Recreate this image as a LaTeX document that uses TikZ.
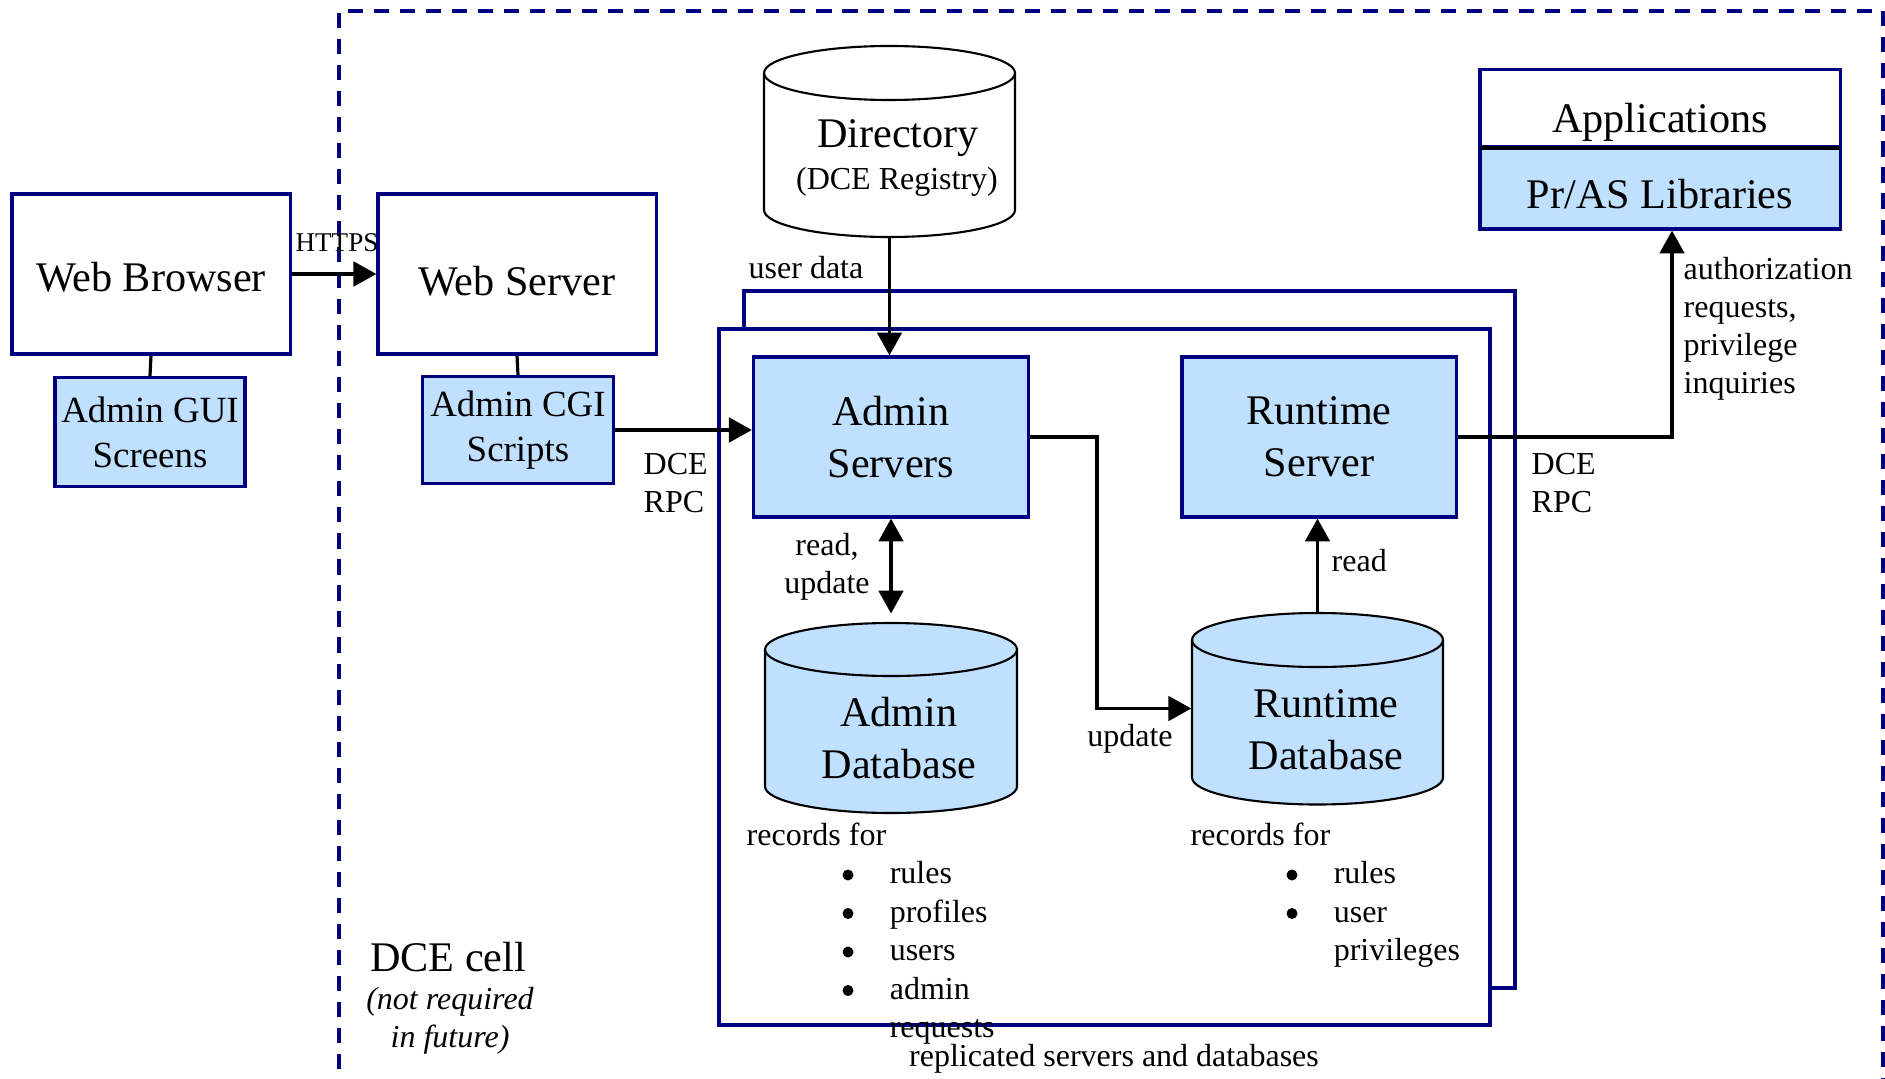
\documentclass[tikz,border=0pt]{standalone}
\usepackage{fontspec}
\setmainfont{Liberation Serif}
\usetikzlibrary{arrows.meta}

\definecolor{cellblue}{RGB}{0,0,128}
\definecolor{boxfill}{RGB}{192,224,255}

\tikzset{
  blk/.style={draw=cellblue, line width=0.9pt, align=center, inner sep=0pt},
  big/.style={font=\fontsize{12}{14.8}\selectfont},
  mid/.style={font=\fontsize{10.5}{12.8}\selectfont},
  lbl/.style={font=\fontsize{9.1}{10.8}\selectfont, inner sep=0pt},
  drum/.style={draw=black, line width=0.6pt},
  drumbox/.style={inner sep=0pt},
  arr/.style={line width=0.9pt, -{Triangle[length=6.5pt,width=7pt]}},
  link/.style={line width=0.9pt},
}

\begin{document}
\begin{tikzpicture}[x=0.01cm, y=-0.01cm]
\useasboundingbox (0,0) rectangle (1885,1079);

% DCE cell boundary
\draw[cellblue, line width=0.9pt, dash pattern=on 4.3pt off 3.1pt] (339,1095) |- (1883,11) -- (1883,1095);

% replicated servers and databases
\draw[cellblue, line width=0.9pt] (744,291) rectangle (1515,988);
\draw[cellblue, line width=0.9pt, fill=white] (719,329) rectangle (1490,1025);

% browser side
\node[blk, big, minimum width=2.78cm, minimum height=1.6cm, text height=10pt, text depth=0pt] (browser) at (151,274) {Web Browser};
\node[blk, mid, fill=boxfill, minimum width=1.9cm, minimum height=1.09cm] (gui) at (150,432) {Admin GUI\\Screens};
\node[blk, big, minimum width=2.78cm, minimum height=1.6cm, text height=12.2pt, text depth=0pt] (websrv) at (517,274) {Web Server};
\node[blk, mid, fill=boxfill, minimum width=1.91cm, minimum height=1.07cm] (cgi) at (518,430) {Admin CGI\\Scripts};
\node[font=\fontsize{7.7}{9}\selectfont, inner sep=0pt] (https) at (337,243) {HTTPS};

% servers
\node[blk, big, fill=boxfill, minimum width=2.75cm, minimum height=1.6cm] (admsrv) at (891,437) {Admin\\Servers};
\node[blk, big, fill=boxfill, minimum width=2.74cm, minimum height=1.6cm] (rtsrv) at (1319,437) {Runtime\\Server};

% applications
\node[blk, big, minimum width=3.6cm, minimum height=0.77cm, text height=16.8pt, text depth=2.6pt] (apps) at (1660,108) {Applications};
\node[blk, big, fill=boxfill, minimum width=3.6cm, minimum height=0.82cm, text height=14pt, text depth=2.6pt] (aslib) at (1660,188) {Pr/AS Libraries};
\draw[line width=1.1pt] ([xshift=0.5pt]apps.south west) -- ([xshift=-0.5pt]apps.south east);

% directory
\node[drumbox, minimum width=2.51cm, minimum height=1.91cm] (dir) at (889.5,141.5) {};
\filldraw[drum, fill=white] (764,73) -- (764,210) arc (180:0:125.5 and 27) -- (1015,73) arc (0:-180:125.5 and 27) -- cycle;
\draw[drum] (764,73) arc (180:0:125.5 and 27);
\node[big, inner sep=0pt] (dirname) at (898,138) {Directory};
\node[lbl] (dirsub) at (897,182) {(DCE Registry)};

% admin database
\node[drumbox, minimum width=2.52cm, minimum height=1.9cm] (admdb) at (891,718) {};
\filldraw[drum, fill=boxfill] (765,649.5) -- (765,786.5) arc (180:0:126 and 26.5) -- (1017,649.5) arc (0:-180:126 and 26.5) -- cycle;
\draw[drum] (765,649.5) arc (180:0:126 and 26.5);
\node[big, align=center, inner sep=0pt] (admdbtxt) at (899,738) {Admin\\Database};

% runtime database
\node[drumbox, minimum width=2.51cm, minimum height=1.91cm] (rtdb) at (1317.5,708.5) {};
\filldraw[drum, fill=boxfill] (1192,640) -- (1192,777.5) arc (180:0:125.5 and 27) -- (1443,640) arc (0:-180:125.5 and 27) -- cycle;
\draw[drum] (1192,640) arc (180:0:125.5 and 27);
\node[big, align=center, inner sep=0pt] (rtdbtxt) at (1326,730) {Runtime\\Database};

% connectors
\coordinate (updx) at (1097,0);
\coordinate (authx) at (1672,0);
\draw[arr] (browser.east) -- (websrv.west);
\draw[link] (browser.south) -- (gui.north);
\draw[link] (websrv.south) -- (cgi.north);
\draw[arr] (cgi.east) -- (admsrv.west |- cgi.east);
\draw[arr] (dir.south) -- (dir.south |- admsrv.north);
\draw[arr, {Triangle[length=6.5pt,width=7pt]}-{Triangle[length=6.5pt,width=7pt]}, shorten >=2.5pt] (admsrv.south) -- (admsrv.south |- admdb.north);
\draw[arr] (rtdb.north) -- (rtdb.north |- rtsrv.south);
\draw[arr] (admsrv.east) -- (admsrv.east -| updx) |- (rtdb.west);
\draw[arr] (rtsrv.east) -| (authx |- aslib.south);

% labels
\node[lbl] (udata) at (806,268) {user data};
\node[lbl, anchor=west, align=left] (rpcl) at (643,483) {DCE\\RPC};
\node[lbl, anchor=west, align=left] (rpcr) at (1531,483) {DCE\\RPC};
\node[lbl, align=center] (rdupd) at (827,567) {read,\\update};
\node[lbl, anchor=west] (rd) at (1331,561) {read};
\node[lbl] (upd) at (1130,739) {update};
\node[lbl, anchor=west, align=left] (auth) at (1683,329) {authorization\\requests,\\privilege\\inquiries};
\node[lbl] (repl) at (1114,1059) {replicated servers and databases};
\node[big, inner sep=0pt] (cell) at (448,957) {DCE cell};
\node[lbl, font=\fontsize{9.1}{10.9}\selectfont\itshape, align=center] (cellnote) at (450,1021) {(not required\\in future)};

% record lists
\node[lbl, font=\fontsize{9.1}{10.95}\selectfont, anchor=base west] (admrec) at (746,845) {\begin{tabular}[t]{@{}p{1.43cm}@{}l@{}}
\multicolumn{2}{@{}l@{}}{records for}\\
 & rules\\
 & profiles\\
 & users\\
 & admin\\
 & requests
\end{tabular}};
\node[lbl, font=\fontsize{9.1}{10.95}\selectfont, anchor=base west] (rtrec) at (1190,845) {\begin{tabular}[t]{@{}p{1.43cm}@{}l@{}}
\multicolumn{2}{@{}l@{}}{records for}\\
 & rules\\
 & user\\
 & privileges
\end{tabular}};
\fill (848,875) circle (5.5);
\fill (848,913.5) circle (5.5);
\fill (848,952) circle (5.5);
\fill (848,990.5) circle (5.5);
\fill (1292,875) circle (5.5);
\fill (1292,913.5) circle (5.5);
\end{tikzpicture}
\end{document}
